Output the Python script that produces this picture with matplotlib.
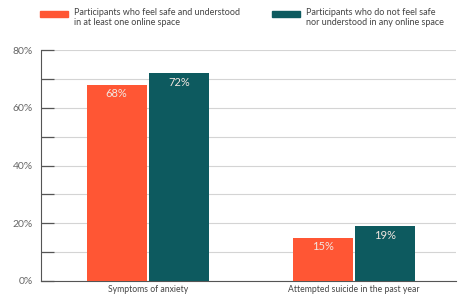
import matplotlib.pyplot as plt
from matplotlib.patches import Rectangle

categories = ["Symptoms of anxiety", "Attempted suicide in the past year"]
safe = [68, 15]
not_safe = [72, 19]
labels = ["Participants who feel safe and understood\nin at least one online space",
          "Participants who do not feel safe\nnor understood in any online space"]
yticks = [0, 20, 40, 60, 80]

orange = "#FF5634"
teal = "#0D5A5F"

plt.rcParams["font.family"] = ["Lato", "DejaVu Sans"]

fig = plt.figure(figsize=(4.58, 2.95), dpi=100)
ax = fig.add_axes([41 / 458, 14 / 295, 415 / 458, 231 / 295])

x = [0, 1]
w = 0.29
off = 0.152
b1 = ax.bar([i - off for i in x], safe, w, color=orange, zorder=3)
b2 = ax.bar([i + off for i in x], not_safe, w, color=teal, zorder=3)

for bars, vals in ((b1, safe), (b2, not_safe)):
    for b, v in zip(bars, vals):
        ax.text(b.get_x() + b.get_width() / 2, v - 1.2, f"{v}%", ha="center", va="top",
                color="#f2e6e0", fontsize=8, zorder=4)

ax.set_xlim(-0.519, 1.495)
ax.set_ylim(0, 80)
ax.set_yticks(range(0, 81, 10))
ax.set_yticklabels([f"{t}%" if t in yticks else "" for t in range(0, 81, 10)])
ax.yaxis.grid(True, color="#d4d4d4", linewidth=0.8, zorder=0)
ax.tick_params(axis="y", length=9, width=0.9, color="#555555", labelsize=7.5,
               labelcolor="#666666", pad=6, direction="in")
ax.set_xticks(x)
ax.set_xticklabels(categories, fontsize=6.2, color="#444444")
ax.tick_params(axis="x", length=0, pad=3)
for s in ["top", "right"]:
    ax.spines[s].set_visible(False)
ax.spines["left"].set_color("#555555")
ax.spines["bottom"].set_color("#555555")
ax.spines["left"].set_linewidth(0.8)
ax.spines["bottom"].set_linewidth(0.8)

# legend drawn at the top
for px, lab, c in ((40, labels[0], orange), (272, labels[1], teal)):
    fig.patches.append(Rectangle((px / 458, (295 - 17) / 295), 28 / 458, 6 / 295,
                                 transform=fig.transFigure, color=c))
    fig.text((px + 34) / 458, (295 - 8) / 295, lab, fontsize=6.5, color="#444444",
             va="top", ha="left", linespacing=1.15)

fig.savefig("out.png", dpi=100, facecolor="white")
